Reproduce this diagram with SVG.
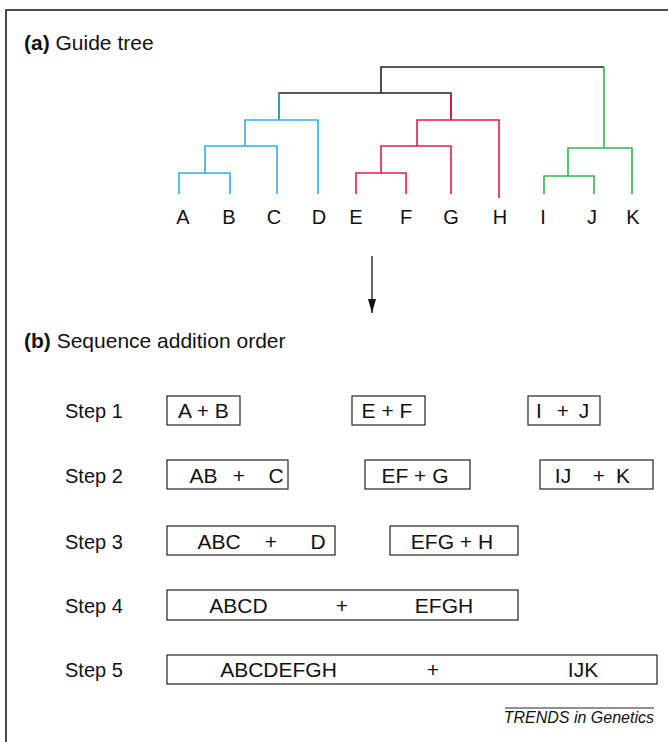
<svg xmlns="http://www.w3.org/2000/svg" width="668" height="742" viewBox="0 0 668 742">
<style>
text{font-family:"Liberation Sans",Arial,sans-serif;fill:#111;}
.t{font-size:20px;}
.h{font-size:21px;}
.lbl{font-size:20px;text-anchor:middle;}
.bx{font-size:21px;}
.box{fill:#fff;stroke:#222;stroke-width:1.2;}
.br{fill:none;stroke-width:1.6;stroke-linejoin:miter;stroke-linecap:butt;}
.k{stroke:#222;}
.b{stroke:#2bb0e6;}
.r{stroke:#e81c45;}
.g{stroke:#33b552;}
.frame{stroke:#111;stroke-width:1.5;fill:none;}
</style>
<defs>
<marker id="ah" viewBox="0 0 14 8" refX="14" refY="4" markerWidth="14" markerHeight="8" markerUnits="userSpaceOnUse" orient="auto">
<path d="M0,0 L14,4 L0,8 Z" fill="#111"/>
</marker>
</defs>
<rect width="668" height="742" fill="#fff"/>
<path class="frame" d="M6,742 V10 H668"/>

<g id="title-a"><text class="h" x="24" y="50"><tspan font-weight="bold">(a)</tspan> Guide tree</text></g>

<g id="tree">
<path class="br k" d="M279,120 V93 H451 V120 M381,93 V67 H604"/>
<path class="br b" d="M279,93 V120 M245,146 V120 H318 V194 M205,173 V146 H277 V194 M179,194 V173 H230 V194"/>
<path class="br r" d="M451,93 V120 M417,146 V120 H499 V198 M381,173 V146 H451 V194 M356,194 V173 H406 V194"/>
<path class="br g" d="M604,67 V148 M568,176 V148 H632 V194 M544,194 V176 H594 V194"/>
</g>

<g id="leaves">
<text class="lbl" x="183" y="224">A</text>
<text class="lbl" x="229" y="224">B</text>
<text class="lbl" x="274" y="224">C</text>
<text class="lbl" x="319" y="224">D</text>
<text class="lbl" x="356" y="224">E</text>
<text class="lbl" x="406" y="224">F</text>
<text class="lbl" x="451" y="224">G</text>
<text class="lbl" x="500" y="224">H</text>
<text class="lbl" x="543" y="224">I</text>
<text class="lbl" x="592" y="224">J</text>
<text class="lbl" x="633" y="224">K</text>
</g>

<g id="connectors">
<line x1="372" y1="256" x2="372" y2="313" stroke="#111" stroke-width="1.3" marker-end="url(#ah)"/>
</g>

<g id="title-b"><text class="h" x="24" y="348"><tspan font-weight="bold">(b)</tspan> Sequence addition order</text></g>

<g id="steps">
<text class="t" x="65" y="418">Step 1</text>
<text class="t" x="65" y="483">Step 2</text>
<text class="t" x="65" y="549">Step 3</text>
<text class="t" x="65" y="613">Step 4</text>
<text class="t" x="65" y="677">Step 5</text>
</g>

<g id="s1-ab"><rect class="box" x="167" y="396" width="73" height="29"/><text class="bx" x="203.5" y="418" text-anchor="middle">A + B</text></g>
<g id="s1-ef"><rect class="box" x="352" y="396" width="73" height="29"/><text class="bx" x="387" y="418" text-anchor="middle">E + F</text></g>
<g id="s1-ij"><rect class="box" x="528" y="396" width="72" height="29"/><text class="bx" y="418" text-anchor="middle"><tspan x="539">I</tspan><tspan x="563">+</tspan><tspan x="584">J</tspan></text></g>

<g id="s2-abc"><rect class="box" x="167" y="460" width="121" height="29"/><text class="bx" y="483" text-anchor="middle"><tspan x="203.5">AB</tspan><tspan x="239">+</tspan><tspan x="276">C</tspan></text></g>
<g id="s2-efg"><rect class="box" x="365" y="460" width="105" height="29"/><text class="bx" x="415" y="483" text-anchor="middle">EF + G</text></g>
<g id="s2-ijk"><rect class="box" x="540" y="460" width="113" height="29"/><text class="bx" y="483" text-anchor="middle"><tspan x="563">IJ</tspan><tspan x="599">+</tspan><tspan x="623">K</tspan></text></g>

<g id="s3-abcd"><rect class="box" x="167" y="526" width="168" height="29"/><text class="bx" y="549" text-anchor="middle"><tspan x="219">ABC</tspan><tspan x="271">+</tspan><tspan x="318">D</tspan></text></g>
<g id="s3-efgh"><rect class="box" x="390" y="526" width="128" height="29"/><text class="bx" x="452" y="549" text-anchor="middle">EFG + H</text></g>

<g id="s4"><rect class="box" x="167" y="590" width="351" height="30"/><text class="bx" y="613" text-anchor="middle"><tspan x="238.5">ABCD</tspan><tspan x="342">+</tspan><tspan x="444">EFGH</tspan></text></g>

<g id="s5"><rect class="box" x="167" y="655" width="490" height="29"/><text class="bx" y="677" text-anchor="middle"><tspan x="278.5">ABCDEFGH</tspan><tspan x="433">+</tspan><tspan x="583">IJK</tspan></text></g>

<g id="credit">
<line x1="505" y1="708" x2="654" y2="708" stroke="#222" stroke-width="1"/>
<text x="654" y="723" font-size="16" font-style="italic" text-anchor="end">TRENDS in Genetics</text>
</g>
</svg>
